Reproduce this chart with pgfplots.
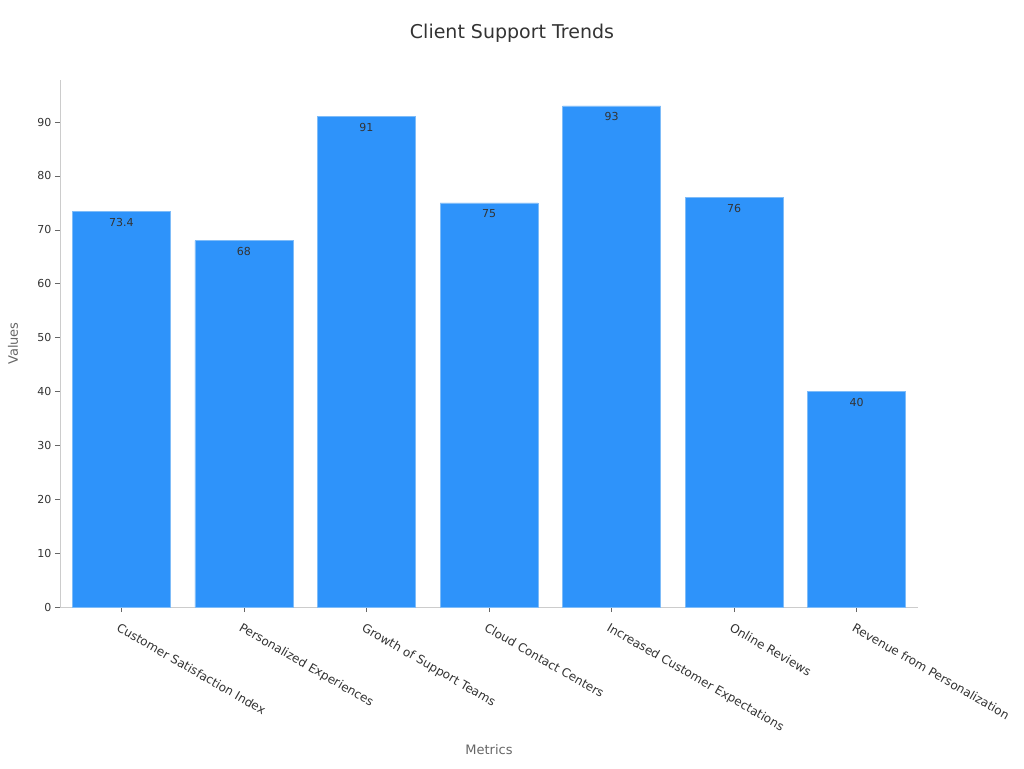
\documentclass[border=0pt]{standalone}
\usepackage{fontspec}
\setmainfont{DejaVu Sans}
\usepackage{pgfplots}
\pgfplotsset{compat=1.18}
\definecolor{barblue}{HTML}{2E93FA}
\definecolor{baredge}{HTML}{7FBCF8}
\definecolor{spine}{HTML}{CCCCCC}
\definecolor{txt}{HTML}{333333}
\definecolor{lbl}{HTML}{666666}
\begin{document}
\begin{tikzpicture}[x=1pt,y=1pt]
\path[use as bounding box] (0,0) rectangle (1024,768);
\node[font=\fontsize{19}{22}\selectfont, text=txt] at (512,735) {Client Support Trends};
\begin{axis}[
  at={(60pt,161pt)}, anchor=south west,
  scale only axis,
  width=858pt, height=527pt,
  xmin=-0.5, xmax=6.5,
  ymin=0, ymax=97.8,
  axis lines=left,
  axis line style={spine, line width=0.8pt, -},
  ytick={0,10,...,90},
  xtick={0,...,6},
  xticklabels={Customer Satisfaction Index, Personalized Experiences, Growth of Support Teams, Cloud Contact Centers, Increased Customer Expectations, Online Reviews, Revenue from Personalization},
  x tick label style={rotate=-30, anchor=north west, font=\fontsize{12}{14}\selectfont, text=txt, xshift=1pt, yshift=-6pt},
  y tick label style={font=\fontsize{11}{13}\selectfont, text=txt},
  /pgf/number format/assume math mode=true,
  tick style={lbl, line width=0.6pt},
  major tick length=5pt,
  tick align=outside,
  ylabel={Values}, xlabel={Metrics},
  ylabel style={font=\fontsize{13}{15}\selectfont, text=lbl, at={(axis description cs:0,0.5)}, anchor=center, yshift=47pt},
  xlabel style={font=\fontsize{13}{15}\selectfont, text=lbl, at={(axis description cs:0.5,0)}, anchor=center, yshift=-143pt},
  ybar, bar width=98pt,
  nodes near coords,
  every node near coord/.append style={anchor=north, yshift=-3pt, font=\fontsize{11}{13}\selectfont, text=txt},
  clip=false,
]
\addplot[fill=barblue, draw=baredge, line width=0.6pt] coordinates {
(0,73.4) (1,68) (2,91) (3,75) (4,93) (5,76) (6,40)
};
\end{axis}
\end{tikzpicture}
\end{document}
